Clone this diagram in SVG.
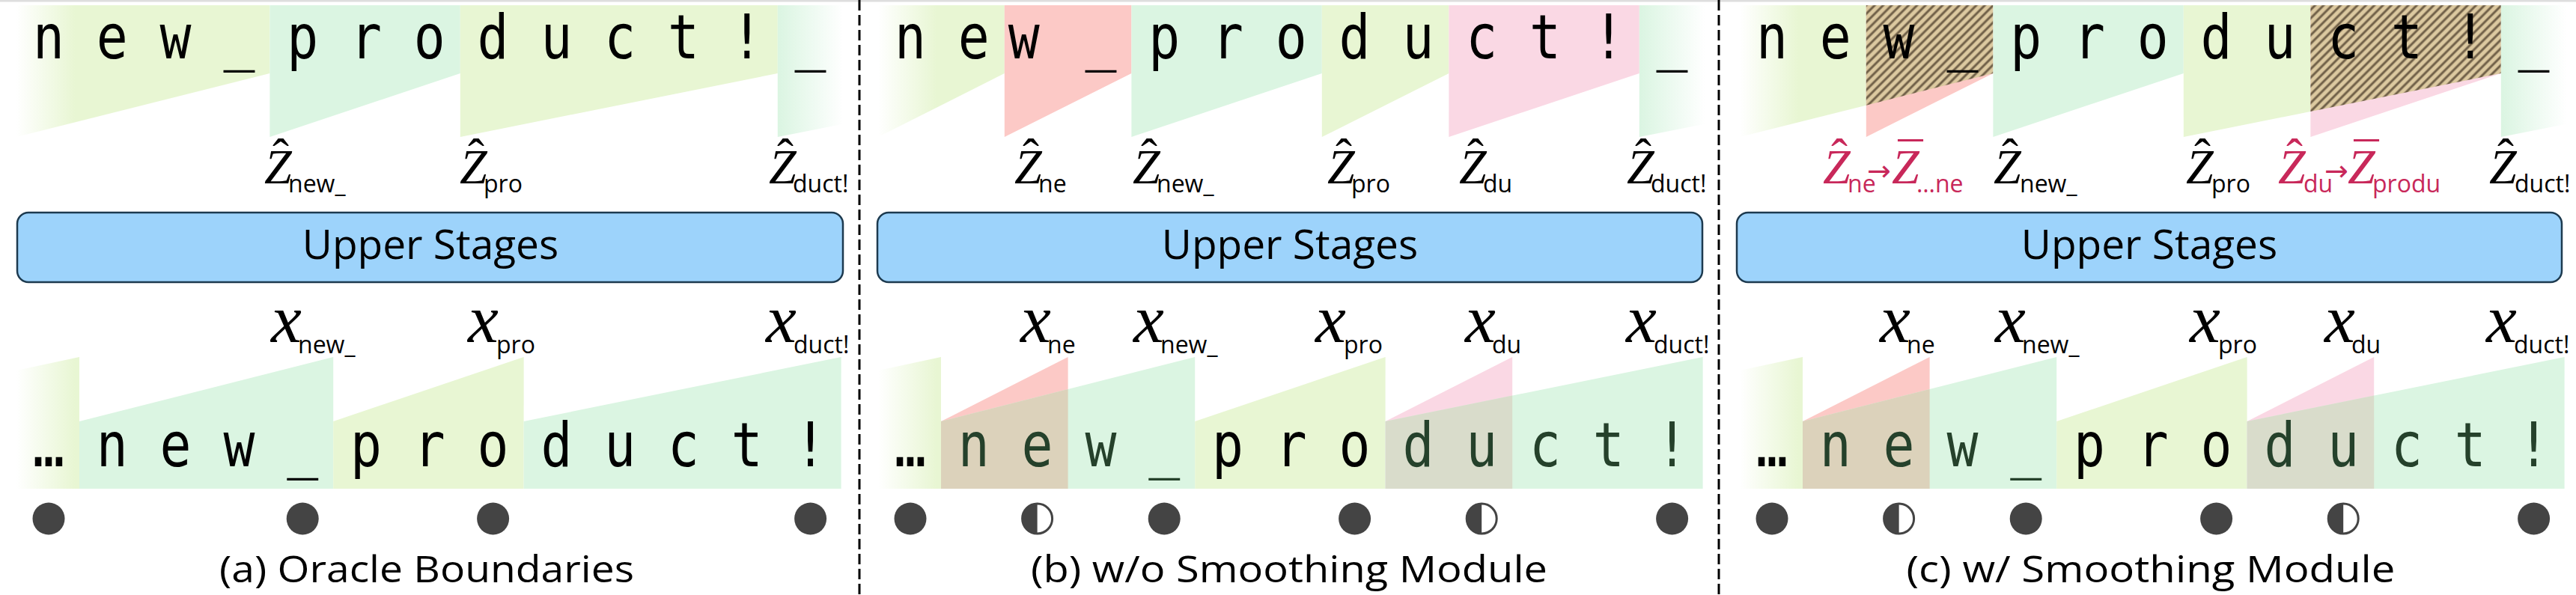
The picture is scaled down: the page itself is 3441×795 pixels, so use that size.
<svg xmlns="http://www.w3.org/2000/svg" width="3441" height="795" viewBox="0 0 3441 795">
<style>
.big{font-family:"DejaVu Sans Mono",monospace;font-size:82px;text-anchor:middle;fill:#000}
.Z{font-family:"Liberation Serif",serif;font-style:italic;font-size:66px;fill:#000}
.hat{font-family:"Liberation Serif",serif;font-size:66px;text-anchor:middle;fill:#000}
.sub{font-family:"Open Sans",sans-serif;font-size:32px;fill:#000}
.xv{font-family:"Liberation Serif",serif;font-style:italic;font-size:92px;fill:#000}
.cap{font-family:"Open Sans",sans-serif;font-size:50px;text-anchor:middle;fill:#000}
.stage{font-family:"Open Sans",sans-serif;font-size:55px;text-anchor:middle;fill:#000}
.red{fill:#c8285a}
.arr{font-family:"DejaVu Sans",sans-serif;font-size:38px;fill:#c8285a}
.lime{fill:#e8f6d3}.mint{fill:#dbf5e2}.rd{fill:#fcc9c6}.pk{fill:#fad8e4}
.tan{fill:#dcd2bb}.gry{fill:#d9dccb}
.box{fill:#9dd3fb;stroke:#1d3a4f;stroke-width:2.5}
.dot{fill:#444}
.half{fill:#fff;stroke:#444;stroke-width:3}
.dg{fill:#25412b}
.dash{stroke:#000;stroke-width:3;stroke-dasharray:14 6;fill:none}
</style>
<defs>
<linearGradient id="fadeL" gradientUnits="userSpaceOnUse" x1="22" y1="0" x2="100" y2="0">
<stop offset="0" stop-color="#e8f6d3" stop-opacity="0"/><stop offset="1" stop-color="#e8f6d3" stop-opacity="1"/>
</linearGradient>
<linearGradient id="fadeR" gradientUnits="userSpaceOnUse" x1="1040" y1="0" x2="1126" y2="0">
<stop offset="0" stop-color="#dbf5e2" stop-opacity="1"/><stop offset="1" stop-color="#dbf5e2" stop-opacity="0"/>
</linearGradient>
<pattern id="hatch" patternUnits="userSpaceOnUse" width="8" height="8" patternTransform="rotate(45)">
<rect width="8" height="8" fill="#dcc9a0"/><line x1="4" y1="0" x2="4" y2="8" stroke="#6f5f47" stroke-width="3"/>
</pattern>
</defs>
<rect x="0" y="0" width="3441" height="795" fill="#fff"/>
<rect x="0" y="0" width="3441" height="2.5" fill="#dedede"/>

<g id="connectors">
<line class="dash" x1="1148" y1="0" x2="1148" y2="795"/>
<line class="dash" x1="2296" y1="0" x2="2296" y2="795"/>
</g>

<!-- Panel A -->
<g id="panel-a">
<g id="a-top-segments">
<polygon fill="url(#fadeL)" points="22,7 360.4,7 360.4,98 22,183"/>
<polygon class="mint" points="360.4,7 614.8,7 614.8,98 360.4,183"/>
<polygon class="lime" points="614.8,7 1038.8,7 1038.8,98 614.8,183"/>
<polygon fill="url(#fadeR)" points="1038.8,7 1130,7 1130,165 1038.8,183"/>
</g>
<g id="a-top-text" transform="scale(0.85 1)"><text class="big" y="78" x="76.47 176.24 276 375.77 475.53 575.29 675.06 774.82 874.59 974.35 1074.12 1173.88 1273.65">new_product!_</text></g>
<g id="a-zlabels">
<g><text class="Z" x="353" y="245">Z</text><text class="hat" x="375" y="231">ˆ</text><text class="sub" x="385" y="257">new_</text></g>
<g><text class="Z" x="614" y="245">Z</text><text class="hat" x="636" y="231">ˆ</text><text class="sub" x="646" y="257">pro</text></g>
<g><text class="Z" x="1027" y="245">Z</text><text class="hat" x="1049" y="231">ˆ</text><text class="sub" x="1059" y="257">duct!</text></g>
</g>
<g id="a-box"><rect class="box" x="23" y="284" width="1103" height="93" rx="15"/><text class="stage" x="575" y="346">Upper Stages</text></g>
<g id="a-xlabels">
<g><text class="xv" x="362" y="457">x</text><text class="sub" x="398" y="472">new_</text></g>
<g><text class="xv" x="625" y="457">x</text><text class="sub" x="663" y="472">pro</text></g>
<g><text class="xv" x="1023" y="457">x</text><text class="sub" x="1060" y="472">duct!</text></g>
</g>
<g id="a-bottom-segments">
<polygon fill="url(#fadeL)" points="22,653 22,495 106,477 106,653"/>
<polygon class="mint" points="106,653 106,563 445.2,477 445.2,653"/>
<polygon class="lime" points="445.2,653 445.2,563 699.6,477 699.6,653"/>
<polygon class="mint" points="699.6,653 699.6,563 1123.6,477 1123.6,653"/>
</g>
<g id="a-bottom-text" transform="scale(0.85 1)"><text class="big" y="623" x="76.47 176.24 276 375.77 475.53 575.29 675.06 774.82 874.59 974.35 1074.12 1173.88 1273.65">…new_product!</text></g>
<g id="a-dots">
<circle class="dot" cx="65" cy="693" r="21.5"/><circle class="dot" cx="404.2" cy="693" r="21.5"/><circle class="dot" cx="658.6" cy="693" r="21.5"/><circle class="dot" cx="1082.6" cy="693" r="21.5"/>
</g>
<text class="cap" x="570" y="778" textLength="554" lengthAdjust="spacingAndGlyphs">(a) Oracle Boundaries</text>
</g>

<!-- Panel B -->
<g id="panel-b" transform="translate(1151,0)">
<g id="b-top-segments">
<polygon fill="url(#fadeL)" points="22,7 190.8,7 190.8,98 22,183"/>
<polygon class="rd" points="190.8,7 360.4,7 360.4,98 190.8,183"/>
<polygon class="mint" points="360.4,7 614.8,7 614.8,98 360.4,183"/>
<polygon class="lime" points="614.8,7 784.4,7 784.4,98 614.8,183"/>
<polygon class="pk" points="784.4,7 1038.8,7 1038.8,98 784.4,183"/>
<polygon fill="url(#fadeR)" points="1038.8,7 1130,7 1130,165 1038.8,183"/>
</g>
<g id="b-top-text" transform="scale(0.85 1)"><text class="big" y="78" x="76.47 176.24 255 375.77 475.53 575.29 675.06 774.82 874.59 974.35 1074.12 1173.88 1273.65">new_product!_</text></g>
<g id="b-zlabels">
<g><text class="Z" x="204" y="245">Z</text><text class="hat" x="226" y="231">ˆ</text><text class="sub" x="236" y="257">ne</text></g>
<g><text class="Z" x="362" y="245">Z</text><text class="hat" x="384" y="231">ˆ</text><text class="sub" x="394" y="257">new_</text></g>
<g><text class="Z" x="622" y="245">Z</text><text class="hat" x="644" y="231">ˆ</text><text class="sub" x="654" y="257">pro</text></g>
<g><text class="Z" x="798" y="245">Z</text><text class="hat" x="820" y="231">ˆ</text><text class="sub" x="830" y="257">du</text></g>
<g><text class="Z" x="1022" y="245">Z</text><text class="hat" x="1044" y="231">ˆ</text><text class="sub" x="1054" y="257">duct!</text></g>
</g>
<g id="b-box"><rect class="box" x="21" y="284" width="1102" height="93" rx="15"/><text class="stage" x="572" y="346">Upper Stages</text></g>
<g id="b-xlabels">
<g><text class="xv" x="212" y="457">x</text><text class="sub" x="248" y="472">ne</text></g>
<g><text class="xv" x="363" y="457">x</text><text class="sub" x="399" y="472">new_</text></g>
<g><text class="xv" x="606" y="457">x</text><text class="sub" x="644" y="472">pro</text></g>
<g><text class="xv" x="806" y="457">x</text><text class="sub" x="842" y="472">du</text></g>
<g><text class="xv" x="1021" y="457">x</text><text class="sub" x="1058" y="472">duct!</text></g>
</g>
<g id="b-bottom-segments">
<polygon fill="url(#fadeL)" points="22,653 22,495 106,477 106,653"/>
<polygon class="rd" points="106,653 106,563 275.6,477 275.6,653"/>
<polygon class="mint" points="106,653 106,563 445.2,477 445.2,653"/>
<polygon class="tan" points="106,653 106,563 275.6,520 275.6,653"/>
<polygon class="lime" points="445.2,653 445.2,563 699.6,477 699.6,653"/>
<polygon class="pk" points="699.6,653 699.6,563 869.2,477 869.2,653"/>
<polygon class="mint" points="699.6,653 699.6,563 1123.6,477 1123.6,653"/>
<polygon class="gry" points="699.6,653 699.6,563 869.2,528.6 869.2,653"/>
</g>
<g id="b-bottom-text" transform="scale(0.85 1)"><text class="big" y="623"><tspan x="76.47">…</tspan><tspan class="dg" x="176.24 276 375.77 475.53">new_</tspan><tspan x="575.29 675.06 774.82">pro</tspan><tspan class="dg" x="874.59 974.35 1074.12 1173.88 1273.65">duct!</tspan></text></g>
<g id="b-dots">
<circle class="dot" cx="65" cy="693" r="21.5"/>
<circle class="half" cx="234.6" cy="693" r="20"/><path class="dot" d="M234.6,673 A20,20 0 0 0 234.6,713 Z"/>
<circle class="dot" cx="404.2" cy="693" r="21.5"/><circle class="dot" cx="658.6" cy="693" r="21.5"/>
<circle class="half" cx="828.2" cy="693" r="20"/><path class="dot" d="M828.2,673 A20,20 0 0 0 828.2,713 Z"/>
<circle class="dot" cx="1082.6" cy="693" r="21.5"/>
</g>
<text class="cap" x="571" y="778" textLength="690" lengthAdjust="spacingAndGlyphs">(b) w/o Smoothing Module</text>
</g>

<!-- Panel C -->
<g id="panel-c" transform="translate(2302,0)">
<g id="c-top-segments">
<polygon fill="url(#fadeL)" points="22,7 190.8,7 190.8,140.7 22,183"/>
<polygon class="rd" points="190.8,7 360.4,7 360.4,98 190.8,183"/>
<polygon fill="url(#hatch)" points="190.8,7 360.4,7 360.4,98 190.8,140.7"/>
<polygon class="mint" points="360.4,7 614.8,7 614.8,98 360.4,183"/>
<polygon class="lime" points="614.8,7 784.4,7 784.4,149 614.8,183"/>
<polygon class="pk" points="784.4,7 1038.8,7 1038.8,98 784.4,183"/>
<polygon fill="url(#hatch)" points="784.4,7 1038.8,7 1038.8,98 784.4,149"/>
<polygon fill="url(#fadeR)" points="1038.8,7 1130,7 1130,165 1038.8,183"/>
</g>
<g id="c-top-text" transform="scale(0.85 1)"><text class="big" y="78" x="76.47 176.24 276 375.77 475.53 575.29 675.06 774.82 874.59 974.35 1074.12 1173.88 1273.65">new_product!_</text></g>
<g id="c-zlabels">
<g><text class="Z red" x="133" y="245">Z</text><text class="hat red" x="155" y="231">ˆ</text><text class="sub red" x="166" y="257">ne</text><text class="arr" x="192" y="241">→</text><text class="Z red" x="225" y="245">Z</text><text class="hat red" x="250" y="236">¯</text><text class="sub red" x="258" y="257">…ne</text></g>
<g><text class="Z" x="361" y="245">Z</text><text class="hat" x="383" y="231">ˆ</text><text class="sub" x="396" y="257">new_</text></g>
<g><text class="Z" x="618" y="245">Z</text><text class="hat" x="640" y="231">ˆ</text><text class="sub" x="652" y="257">pro</text></g>
<g><text class="Z red" x="741" y="245">Z</text><text class="hat red" x="763" y="231">ˆ</text><text class="sub red" x="775" y="257">du</text><text class="arr" x="803" y="241">→</text><text class="Z red" x="834" y="245">Z</text><text class="hat red" x="859" y="236">¯</text><text class="sub red" x="867" y="257">produ</text></g>
<g><text class="Z" x="1023" y="245">Z</text><text class="hat" x="1045" y="231">ˆ</text><text class="sub" x="1057" y="257">duct!</text></g>
</g>
<g id="c-box"><rect class="box" x="18" y="284" width="1102" height="93" rx="15"/><text class="stage" x="569" y="346">Upper Stages</text></g>
<g id="c-xlabels">
<g><text class="xv" x="209" y="457">x</text><text class="sub" x="245" y="472">ne</text></g>
<g><text class="xv" x="363" y="457">x</text><text class="sub" x="399" y="472">new_</text></g>
<g><text class="xv" x="623" y="457">x</text><text class="sub" x="661" y="472">pro</text></g>
<g><text class="xv" x="803" y="457">x</text><text class="sub" x="839" y="472">du</text></g>
<g><text class="xv" x="1019" y="457">x</text><text class="sub" x="1056" y="472">duct!</text></g>
</g>
<g id="c-bottom-segments">
<polygon fill="url(#fadeL)" points="22,653 22,495 106,477 106,653"/>
<polygon class="rd" points="106,653 106,563 275.6,477 275.6,653"/>
<polygon class="mint" points="106,653 106,563 445.2,477 445.2,653"/>
<polygon class="tan" points="106,653 106,563 275.6,520 275.6,653"/>
<polygon class="lime" points="445.2,653 445.2,563 699.6,477 699.6,653"/>
<polygon class="pk" points="699.6,653 699.6,563 869.2,477 869.2,653"/>
<polygon class="mint" points="699.6,653 699.6,563 1123.6,477 1123.6,653"/>
<polygon class="gry" points="699.6,653 699.6,563 869.2,528.6 869.2,653"/>
</g>
<g id="c-bottom-text" transform="scale(0.85 1)"><text class="big" y="623"><tspan x="76.47">…</tspan><tspan class="dg" x="176.24 276 375.77 475.53">new_</tspan><tspan x="575.29 675.06 774.82">pro</tspan><tspan class="dg" x="874.59 974.35 1074.12 1173.88 1273.65">duct!</tspan></text></g>
<g id="c-dots">
<circle class="dot" cx="65" cy="693" r="21.5"/>
<circle class="half" cx="234.6" cy="693" r="20"/><path class="dot" d="M234.6,673 A20,20 0 0 0 234.6,713 Z"/>
<circle class="dot" cx="404.2" cy="693" r="21.5"/><circle class="dot" cx="658.6" cy="693" r="21.5"/>
<circle class="half" cx="828.2" cy="693" r="20"/><path class="dot" d="M828.2,673 A20,20 0 0 0 828.2,713 Z"/>
<circle class="dot" cx="1082.6" cy="693" r="21.5"/>
</g>
<text class="cap" x="571" y="778" textLength="653" lengthAdjust="spacingAndGlyphs">(c) w/ Smoothing Module</text>
</g>
</svg>
